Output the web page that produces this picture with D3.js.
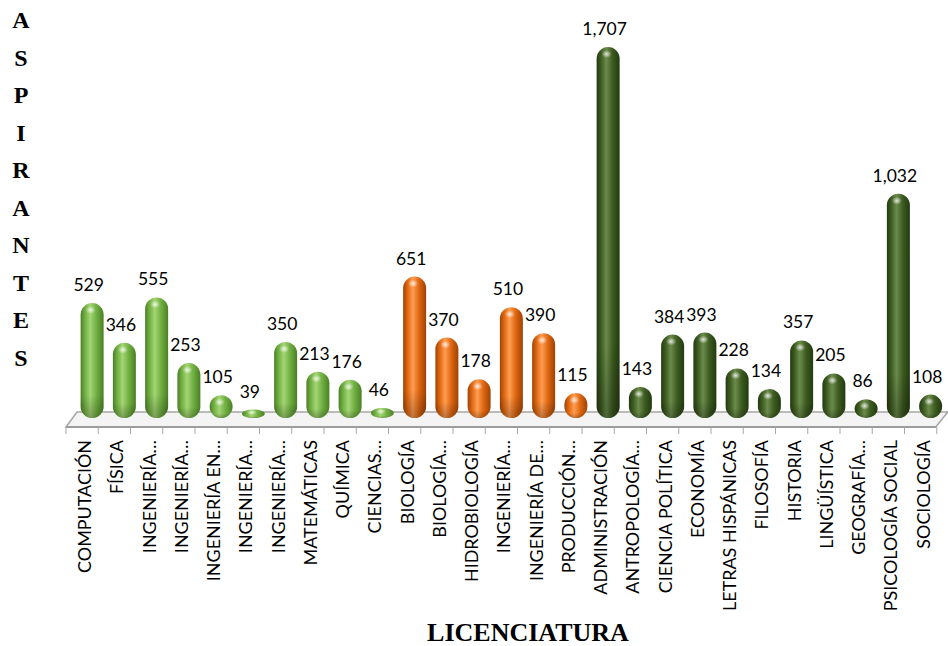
<!DOCTYPE html>
<html><head><meta charset="utf-8">
<script src="https://cdn.jsdelivr.net/npm/d3@7"></script>
<style>body{margin:0;background:#fff} svg{display:block}</style>
</head><body>
<svg id="c" width="948" height="646"></svg>
<script>
const categories = ["COMPUTACIÓN","FÍSICA","INGENIERÍA…","INGENIERÍA…","INGENIERÍA EN…","INGENIERÍA…","INGENIERÍA…","MATEMÁTICAS","QUÍMICA","CIENCIAS…","BIOLOGÍA","BIOLOGÍA…","HIDROBIOLOGÍA","INGENIERÍA…","INGENIERÍA DE…","PRODUCCIÓN…","ADMINISTRACIÓN","ANTROPOLOGÍA…","CIENCIA POLÍTICA","ECONOMÍA","LETRAS HISPÁNICAS","FILOSOFÍA","HISTORIA","LINGÜÍSTICA","GEOGRAFÍA…","PSICOLOGÍA SOCIAL","SOCIOLOGÍA"];
const values = [529,346,555,253,105,39,350,213,176,46,651,370,178,510,390,115,1707,143,384,393,228,134,357,205,86,1032,108];
const groups = ["a","a","a","a","a","a","a","a","a","a","b","b","b","b","b","b","c","c","c","c","c","c","c","c","c","c","c"];
const yTitle = "ASPIRANTES";
const xTitle = "LICENCIATURA";

const palette = {
  a: {edge:"#4b7f26", base:"#6fae40", light:"#a3d574"},
  b: {edge:"#9c4306", base:"#de650f", light:"#ff9d52"},
  c: {edge:"#223a10", base:"#3c5a20", light:"#6b8b4b"}
};

const svg = d3.select("#c");
const defs = svg.append("defs");
Object.entries(palette).forEach(([k,p])=>{
  const g = defs.append("linearGradient").attr("id","g"+k).attr("x1","0").attr("x2","1").attr("y1","0").attr("y2","0");
  g.append("stop").attr("offset","0%").attr("stop-color",p.edge);
  g.append("stop").attr("offset","18%").attr("stop-color",p.base);
  g.append("stop").attr("offset","42%").attr("stop-color",p.light);
  g.append("stop").attr("offset","70%").attr("stop-color",p.base);
  g.append("stop").attr("offset","100%").attr("stop-color",p.edge);
});
const rg = defs.append("radialGradient").attr("id","hl");
rg.append("stop").attr("offset","0%").attr("stop-color","#fff").attr("stop-opacity",0.8);
rg.append("stop").attr("offset","100%").attr("stop-color","#fff").attr("stop-opacity",0);
const vg = defs.append("linearGradient").attr("id","shade").attr("x1","0").attr("x2","0").attr("y1","0").attr("y2","1");
vg.append("stop").attr("offset","0%").attr("stop-color","#000").attr("stop-opacity",0);
vg.append("stop").attr("offset","80%").attr("stop-color","#000").attr("stop-opacity",0);
vg.append("stop").attr("offset","100%").attr("stop-color","#000").attr("stop-opacity",0.25);

const n = categories.length;
const step = 32.25;
const x = d3.scaleBand().domain(d3.range(n)).range([76, 76 + n*step]).paddingInner(0.287).paddingOuter(0.1435);
const y = d3.scaleLinear().domain([0,1800]).range([418, 418 - 1800*0.2173]);
const bw = x.bandwidth();
const depthX = -10, backY = 412, frontY = 427;
const x0 = x.range()[0], x1 = x.range()[1];

// floor
svg.append("polygon")
  .attr("points", [[x0+1,backY],[x1+1,backY],[x1+depthX-1,frontY],[x0+depthX,frontY]].map(p=>p.join(",")).join(" "))
  .attr("fill","#f4f4f4").attr("stroke","#a6a6a6").attr("stroke-width",1.5);
svg.append("line").attr("x1",x0+depthX).attr("x2",x1+depthX-1).attr("y1",frontY).attr("y2",frontY)
  .attr("stroke","#9c9c9c").attr("stroke-width",2.2);

// ticks
const tickXs = d3.range(n+1).map(i => x0 + i*x.step() + depthX);
svg.append("g").selectAll("line").data(tickXs).join("line")
  .attr("x1",d=>d).attr("x2",d=>d).attr("y1",frontY).attr("y2",frontY+7)
  .attr("stroke","#a6a6a6").attr("stroke-width",1);

// bars
const bars = svg.append("g");
values.forEach((v,i)=>{
  const top = y(v), bot = y(0), h = bot - top;
  const cx = x(i) + bw/2;
  const ry = Math.min(bw/2, h/2);
  bars.append("rect").attr("x",x(i)).attr("y",top).attr("width",bw).attr("height",h)
    .attr("rx",bw/2).attr("ry",ry).attr("fill","url(#g"+groups[i]+")");
  bars.append("rect").attr("x",x(i)).attr("y",top).attr("width",bw).attr("height",h)
    .attr("rx",bw/2).attr("ry",ry).attr("fill","url(#shade)");
  bars.append("ellipse").attr("cx",cx-1.5).attr("cy",top+Math.min(7,h*0.35)).attr("rx",5).attr("ry",Math.min(4,h*0.3))
    .attr("fill","url(#hl)");
});

// value labels
const fmt = d3.format(",");
svg.append("g").selectAll("text").data(values).join("text")
  .attr("x",(d,i)=>x(i)+bw/2-3.5).attr("y",d=>y(d)-12)
  .attr("text-anchor","middle").attr("font-family","Lato, 'Open Sans', sans-serif").attr("font-size",17.5)
  .attr("fill","#000").text(d=>fmt(d));

// category labels
const catG = svg.append("g");
const lab = catG.selectAll("text").data(categories).join("text")
  .attr("transform",(d,i)=>`translate(${x(i)+bw/2-7.5},440) rotate(-90)`)
  .attr("text-anchor","end").attr("dy","0.36em")
  .attr("font-family","Lato, 'Open Sans', sans-serif").attr("font-size",18).attr("fill","#000").text(d=>d);
const L = lab.nodes()[0].getComputedTextLength();
lab.attr("font-size", 18*133/L);

// titles
svg.append("g").selectAll("text").data(yTitle.split("")).join("text")
  .attr("x",21).attr("y",(d,i)=>20+i*37.5).attr("dy","0.35em").attr("text-anchor","middle")
  .attr("font-family","'Liberation Serif', serif").attr("font-weight","bold").attr("font-size",24)
  .attr("fill","#000").text(d=>d);
svg.append("text").attr("x",528).attr("y",641).attr("text-anchor","middle")
  .attr("font-family","'Liberation Serif', serif").attr("font-weight","bold").attr("font-size",26)
  .attr("fill","#000").text(xTitle);
</script>
</body></html>
